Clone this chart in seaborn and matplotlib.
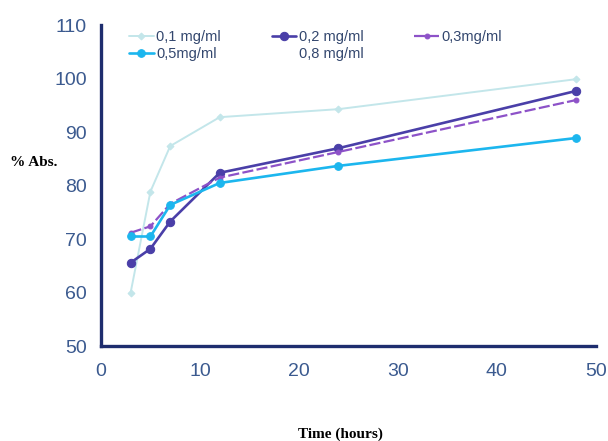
import pandas as pd
import matplotlib.pyplot as plt
import seaborn as sns

tiempo = [3, 5, 7, 12, 24, 48]
c01 = [60.0, 78.9, 87.4, 92.8, 94.3, 99.9]
c02 = [65.6, 68.2, 73.3, 82.4, 87.0, 97.7]
c03 = [71.2, 72.4, 76.6, 81.5, 86.3, 96.0]
c05 = [70.5, 70.5, 76.4, 80.5, 83.7, 88.9]
etiquetas = ["0,1 mg/ml", "0,2 mg/ml", "0,3mg/ml", "0,5mg/ml", "0,8 mg/ml"]

veri = pd.DataFrame({"t": tiempo, "c01": c01, "c02": c02, "c03": c03, "c05": c05})

sns.set_theme(style="white")
azul = "#1e2d6e"
tick_col = "#3b5a8f"

fig = plt.figure(figsize=(6.08, 4.41), dpi=100)
ax = fig.add_axes([0.166, 0.215, 0.814, 0.728])

estilos = [
    ("c01", "#c3e6ea", "D", 3.5, "-", 1.4),
    ("c02", "#4a3fa8", "o", 6, "-", 1.9),
    ("c03", "#8d52c8", "o", 3.5, (0, (5, 1.5)), 1.6),
    ("c05", "#1cb6ee", "o", 5.5, "-", 1.9),
]
for (col, color, mk, ms, ls, lw), lab in zip(estilos, etiquetas):
    sns.lineplot(data=veri, x="t", y=col, ax=ax, color=color, marker=mk,
                 markersize=ms, markeredgecolor=color, linestyle=ls,
                 linewidth=lw, label=lab)
h, l = ax.get_legend_handles_labels()
h08, = ax.plot([], [], color="white", linewidth=0, label=etiquetas[4])
h = h + [h08]
orden = [0, 3, 1, 4, 2]
ax.legend([h[i] for i in orden], [etiquetas[i] for i in orden], ncol=3,
          frameon=False, loc="upper left", bbox_to_anchor=(0.03, 1.025),
          handlelength=1.7, handletextpad=0.15,
          columnspacing=3.5, labelspacing=0.2,
          prop={"family": "Liberation Sans", "size": 10.5},
          labelcolor="#33476e")

ax.set_xlim(0, 50)
ax.set_ylim(50, 110)
ax.set_xticks(range(0, 51, 10))
ax.set_yticks(range(50, 111, 10))
for s in ["top", "right"]:
    ax.spines[s].set_visible(False)
for s in ["left", "bottom"]:
    ax.spines[s].set_color(azul)
    ax.spines[s].set_linewidth(2.4)
ax.tick_params(axis="both", length=0, labelsize=14, labelcolor=tick_col, pad=12)
for t in ax.get_xticklabels() + ax.get_yticklabels():
    t.set_family("Liberation Sans")
ax.tick_params(axis="y", pad=10)
ax.set_xlabel("")
ax.set_ylabel("")

fig.text(0.016, 0.632, "% Abs.", family="Liberation Serif", fontweight="bold",
         fontsize=11, color="black", va="center")
fig.text(0.56, 0.008, "Time (hours)", family="Liberation Serif", fontweight="bold",
         fontsize=11, color="black", ha="center")

plt.savefig("out.png", dpi=100)
plt.close()
